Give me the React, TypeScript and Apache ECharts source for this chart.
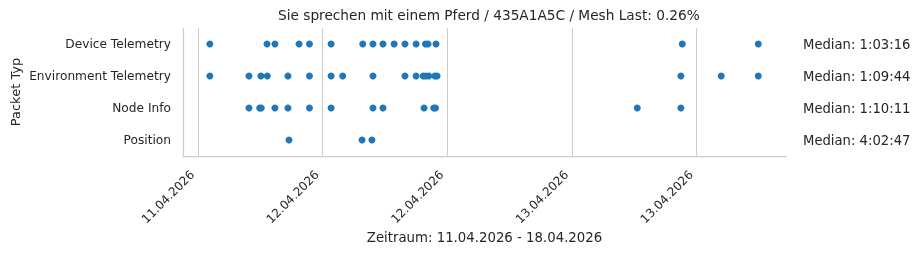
import React, { useEffect, useRef } from "react";
import * as echarts from "echarts";

const categories = ["Device Telemetry", "Environment Telemetry", "Node Info", "Position"];
const medians = ["Median: 1:03:16", "Median: 1:09:44", "Median: 1:10:11", "Median: 4:02:47"];

const deviceTelemetry = [
  "2026-04-11 13:09", "2026-04-11 18:39", "2026-04-11 19:25", "2026-04-11 21:44", "2026-04-11 22:44",
  "2026-04-12 00:49", "2026-04-12 03:52", "2026-04-12 04:51", "2026-04-12 05:49", "2026-04-12 06:53",
  "2026-04-12 07:56", "2026-04-12 09:00", "2026-04-12 09:54", "2026-04-12 10:09", "2026-04-12 10:55",
  "2026-04-13 10:37", "2026-04-13 17:56",
];
const environmentTelemetry = [
  "2026-04-11 13:09", "2026-04-11 16:55", "2026-04-11 18:04", "2026-04-11 18:41", "2026-04-11 20:40",
  "2026-04-11 22:44", "2026-04-12 00:49", "2026-04-12 01:56", "2026-04-12 04:51", "2026-04-12 07:56",
  "2026-04-12 09:00", "2026-04-12 09:41", "2026-04-12 09:56", "2026-04-12 10:13", "2026-04-12 10:48",
  "2026-04-12 11:01", "2026-04-13 10:29", "2026-04-13 14:22", "2026-04-13 17:56",
];
const nodeInfo = [
  "2026-04-11 16:55", "2026-04-11 17:57", "2026-04-11 18:06", "2026-04-11 19:25", "2026-04-11 20:40",
  "2026-04-11 22:44", "2026-04-12 00:49", "2026-04-12 04:51", "2026-04-12 05:49", "2026-04-12 09:46",
  "2026-04-12 10:42", "2026-04-12 10:52", "2026-04-13 06:17", "2026-04-13 10:29",
];
const position = ["2026-04-11 20:46", "2026-04-12 03:48", "2026-04-12 04:45"];

const tickTimes = [
  "2026-04-11 12:00", "2026-04-12 00:00", "2026-04-12 12:00", "2026-04-13 00:00", "2026-04-13 12:00",
];
const axisMinTime = "2026-04-11 10:34";
const axisMaxTime = "2026-04-13 20:36";

const title = "Sie sprechen mit einem Pferd / 435A1A5C / Mesh Last: 0.26%";
const xName = "Zeitraum: 11.04.2026 - 18.04.2026";
const yName = "Packet Typ";

const toMs = (s: string) =>
  Date.UTC(+s.slice(0, 4), +s.slice(5, 7) - 1, +s.slice(8, 10), +s.slice(11, 13), +s.slice(14, 16));

const pad = (n: number) => (n < 10 ? "0" + n : "" + n);
const fmtDate = (v: number) => {
  const d = new Date(v);
  return `${pad(d.getUTCDate())}.${pad(d.getUTCMonth() + 1)}.${d.getUTCFullYear()}`;
};

const FONT = "DejaVu Sans";
const TXT = "#262626";

export default function App() {
  const ref = useRef<HTMLDivElement>(null);
  useEffect(() => {
    if (!ref.current) return;
    const chart = echarts.init(ref.current, undefined, { renderer: "svg" });
    const rows = [deviceTelemetry, environmentTelemetry, nodeInfo, position];
    const data: [number, string][] = [];
    rows.forEach((arr, i) => arr.forEach((t) => data.push([toMs(t), categories[i]])));
    const ticks = tickTimes.map(toMs);
    chart.setOption({
      animation: false,
      textStyle: { fontFamily: FONT },
      title: {
        text: title,
        left: 278,
        top: 8,
        padding: 0,
        textStyle: { fontFamily: FONT, fontSize: 13.7, fontWeight: "normal", color: TXT },
      },
      grid: {
        left: 183,
        top: 28,
        right: 136,
        bottom: 99,
        containLabel: false,
        outerBoundsMode: "none",
      },
      xAxis: {
        type: "value",
        min: toMs(axisMinTime),
        max: toMs(axisMaxTime),
        name: xName,
        nameLocation: "middle",
        nameGap: 75,
        nameMoveOverlap: false,
        nameTextStyle: { fontFamily: FONT, fontSize: 13.3, color: TXT },
        axisLine: { show: true, lineStyle: { color: "#cccccc", width: 1.25 } },
        axisTick: { show: false, customValues: ticks },
        axisLabel: {
          customValues: ticks,
          rotate: 45,
          margin: 11,
          padding: [0, 8, 0, 0],
          formatter: (v: number) => fmtDate(v),
          fontFamily: FONT,
          fontSize: 12,
          color: TXT,
        },
        splitLine: { show: true, lineStyle: { color: "#cccccc", width: 1 } },
      },
      yAxis: [
        {
          type: "category",
          data: categories,
          inverse: true,
          name: yName,
          nameLocation: "middle",
          nameGap: 161,
          nameMoveOverlap: false,
          nameTextStyle: { fontFamily: FONT, fontSize: 13, color: TXT },
          axisLine: { show: true, lineStyle: { color: "#cccccc", width: 1.25 } },
          axisTick: { show: false },
          axisLabel: { margin: 12, fontFamily: FONT, fontSize: 12.2, color: TXT },
          splitLine: { show: false },
        },
        {
          type: "category",
          data: medians,
          inverse: true,
          position: "right",
          axisLine: { show: false },
          axisTick: { show: false },
          axisLabel: { margin: 17, fontFamily: FONT, fontSize: 13.2, color: TXT },
          splitLine: { show: false },
        },
      ],
      series: [
        {
          type: "scatter",
          yAxisIndex: 0,
          data,
          symbolSize: 7,
          itemStyle: { color: "#1f77b4", opacity: 1 },
        },
      ],
    });
    return () => chart.dispose();
  }, []);
  return <div ref={ref} style={{ position: "fixed", left: 0, top: 0, width: 922, height: 255 }} />;
}
